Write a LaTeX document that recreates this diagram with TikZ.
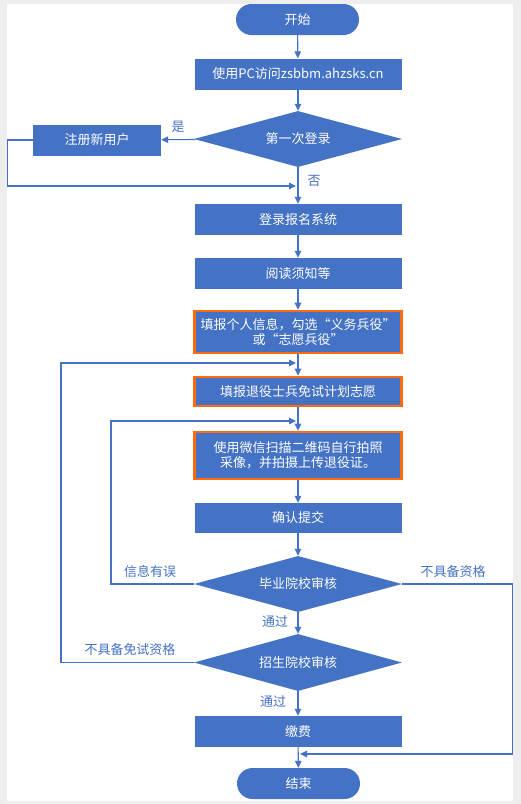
\documentclass[tikz,border=0pt]{standalone}
\usepackage{fontspec}
\setmainfont{Noto Sans CJK SC}
\usetikzlibrary{shapes.geometric,arrows.meta}
\definecolor{obl}{HTML}{4472C4}
\definecolor{oor}{HTML}{FF6A0F}
\definecolor{bgg}{HTML}{EEEEEE}
\tikzset{
  base/.style={fill=obl,text=white,inner sep=0pt,font=\fontsize{13}{15}\selectfont,align=center},
  procbox/.style={base,rectangle,minimum width=207pt,minimum height=31pt},
  hlbox/.style={procbox,draw=oor,line width=2.6pt},
  termbox/.style={base,rectangle,rounded corners=15.5pt,minimum width=123pt,minimum height=31pt},
  decbox/.style={base,diamond,minimum width=208pt,minimum height=56pt,shape aspect=3.7},
  conn/.style={draw=obl,line width=1.1pt,-{Triangle[length=7pt,width=6.5pt]}},
  line/.style={draw=obl,line width=1.1pt},
  lbl/.style={text=obl,inner sep=0pt,font=\fontsize{13}{15}\selectfont}
}
\begin{document}
\begin{tikzpicture}[x=1pt,y=-1pt]
\useasboundingbox (0,0) rectangle (521,804);
\fill[bgg] (0,0) rectangle (521,804);
\fill[white] (7,4) rectangle (513,801);
% nodes
\node[termbox] (start) at (297.5,19.5) {开始};
\node[procbox] (visit) at (298,74) {使用PC访问zsbbm.ahzsks.cn};
\node[decbox] (first) at (298,139) {第一次登录};
\node[procbox,minimum width=128pt] (reg) at (97,140) {注册新用户};
\node[procbox] (login) at (298,219.5) {登录报名系统};
\node[procbox] (read) at (298,273.5) {阅读须知等};
\node[hlbox,minimum height=42pt] (info) at (298,332) {填报个人信息，勾选“义务兵役”\\或“志愿兵役”};
\node[hlbox,minimum height=29pt] (wish) at (298,391.5) {填报退役士兵免试计划志愿};
\node[hlbox,minimum height=47pt] (photo) at (298,455.5) {使用微信扫描二维码自行拍照\\采像，并拍摄上传退役证。};
\node[procbox,minimum height=30pt] (submit) at (298,518) {确认提交};
\node[decbox] (grad) at (298,584) {毕业院校审核};
\node[decbox,minimum height=57pt] (adm) at (298,662.5) {招生院校审核};
\node[procbox] (pay) at (298,731.5) {缴费};
\node[termbox] (end) at (298.5,783.5) {结束};
% coordinates
\coordinate (j1) at (296,186);
\coordinate (r1) at (7.5,140);
\coordinate (r2) at (7.5,186);
\coordinate (j2) at (296,363);
\coordinate (l1) at (61,662.5);
\coordinate (l2) at (61,363);
\coordinate (j3) at (296,421);
\coordinate (m1) at (111,584);
\coordinate (m2) at (111,421);
\coordinate (n1) at (512.5,584);
\coordinate (n2) at (512.5,754);
\coordinate (j4) at (300,754);
% connectors
\draw[conn] (start) -- (visit);
\draw[conn] (visit) -- (first);
\draw[conn] (first) -- (reg);
\draw[conn] (reg.west) -- (r1) -- (r2) -- (j1);
\draw[conn] (first) -- (login);
\draw[conn] (login) -- (read);
\draw[conn] (read) -- (info);
\draw[conn] (info) -- (wish);
\draw[conn] (adm.west) -- (l1) -- (l2) -- (j2);
\draw[conn] (wish) -- (photo);
\draw[conn] (grad.west) -- (m1) -- (m2) -- (j3);
\draw[conn] (photo) -- (submit);
\draw[conn] (submit) -- (grad);
\draw[conn] (grad) -- (adm);
\draw[conn] (adm) -- (pay);
\draw[conn] (grad.east) -- (n1) -- (n2) -- (j4);
\draw[conn] (pay) -- (end);
% labels
\node[lbl] (tyes) at (178,127) {是};
\node[lbl] (tno) at (314,181) {否};
\node[lbl] (terr) at (150,572) {信息有误};
\node[lbl] (tnq) at (453,572) {不具备资格};
\node[lbl] (tp1) at (275,622) {通过};
\node[lbl] (tnqa) at (130,650) {不具备免试资格};
\node[lbl] (tp2) at (273,702) {通过};
\end{tikzpicture}
\end{document}
